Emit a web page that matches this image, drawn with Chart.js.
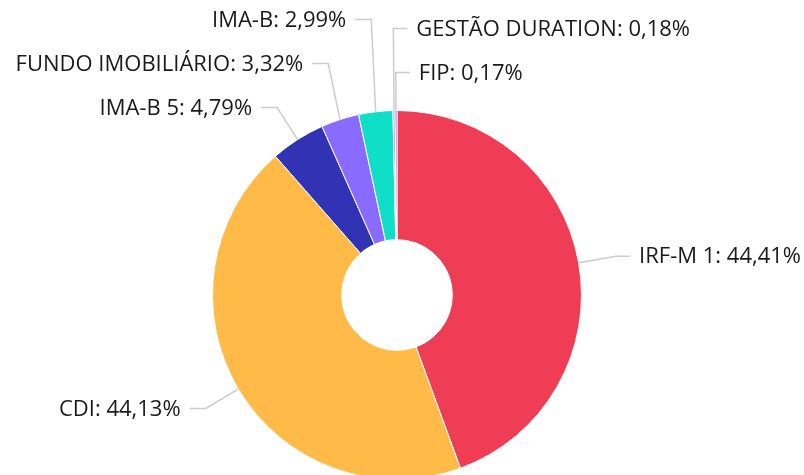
<!DOCTYPE html>
<html>
<head>
<meta charset="utf-8">
<script src="https://cdn.jsdelivr.net/npm/chart.js@4.4.0/dist/chart.umd.min.js"></script>
<style>
  html, body { margin: 0; padding: 0; background: #fff; overflow: hidden; }
  #wrap { width: 804px; height: 480px; }
</style>
</head>
<body>
<div id="wrap"><canvas id="allocationChart"></canvas></div>
<script>
const categories = ['IRF-M 1', 'CDI', 'IMA-B 5', 'FUNDO IMOBILIÁRIO', 'IMA-B', 'GESTÃO DURATION', 'FIP'];
const shares = [44.41, 44.13, 4.79, 3.32, 2.99, 0.18, 0.17];
const sliceColors = ['#ef3d55', '#ffba48', '#3232b4', '#896cff', '#10dfc8', '#7f9ee0', '#c35ac8'];

// labels with elbow leader lines, pushed apart vertically per side
const leaderLabels = {
    id: 'leaderLabels',
    afterDraw(chart) {
        const ctx = chart.ctx;
        const arcs = chart.getDatasetMeta(0).data;
        const items = arcs.map((arc, i) => {
            const p = arc.getProps(['x', 'y', 'startAngle', 'endAngle', 'outerRadius'], true);
            const mid = (p.startAngle + p.endAngle) / 2;
            const cos = Math.cos(mid), sin = Math.sin(mid);
            const r2 = p.outerRadius + 38;
            return {
                idx: i,
                text: categories[i] + ': ' + shares[i].toFixed(2).replace('.', ',') + '%',
                ax: p.x + cos * p.outerRadius,
                ay: p.y + sin * p.outerRadius,
                ex: p.x + cos * r2,
                ey: p.y + sin * r2,
                right: cos > -0.05
            };
        });
        const gap = 44;
        [true, false].forEach(side => {
            const list = items.filter(it => it.right === side)
                .sort((a, b) => Math.abs(a.ey - b.ey) < 2 ? a.idx - b.idx : a.ey - b.ey);
            for (let k = list.length - 2; k >= 0; k--) {
                list[k].ey = Math.min(list[k].ey, list[k + 1].ey - gap);
            }
        });

        ctx.save();
        ctx.font = '22px "Open Sans"';
        ctx.textBaseline = 'middle';
        items.forEach(it => {
            const hx = it.right ? it.ex + 14 : it.ex - 16;
            ctx.strokeStyle = '#cccccc';
            ctx.lineWidth = 1.5;
            ctx.beginPath();
            ctx.moveTo(it.ax, it.ay);
            ctx.lineTo(it.ex, it.ey);
            ctx.lineTo(hx, it.ey);
            ctx.stroke();
            ctx.fillStyle = '#1a1a1a';
            ctx.textAlign = it.right ? 'left' : 'right';
            ctx.fillText(it.text, it.right ? hx + 9 : hx - 9, it.ey + 1);
        });
        ctx.restore();
    }
};

const allocationCtx = document.getElementById('allocationChart').getContext('2d');
const allocationChart = new Chart(allocationCtx, {
    type: 'doughnut',
    data: {
        labels: categories,
        datasets: [{
            data: shares,
            backgroundColor: sliceColors,
            borderColor: '#ffffff',
            borderWidth: 1
        }]
    },
    options: {
        responsive: true,
        maintainAspectRatio: false,
        animation: false,
        cutout: '30%',
        layout: { padding: { top: 110, bottom: 0, left: 0, right: 10 } },
        plugins: {
            legend: { display: false },
            tooltip: { enabled: false }
        }
    },
    plugins: [leaderLabels]
});
</script>
</body>
</html>
